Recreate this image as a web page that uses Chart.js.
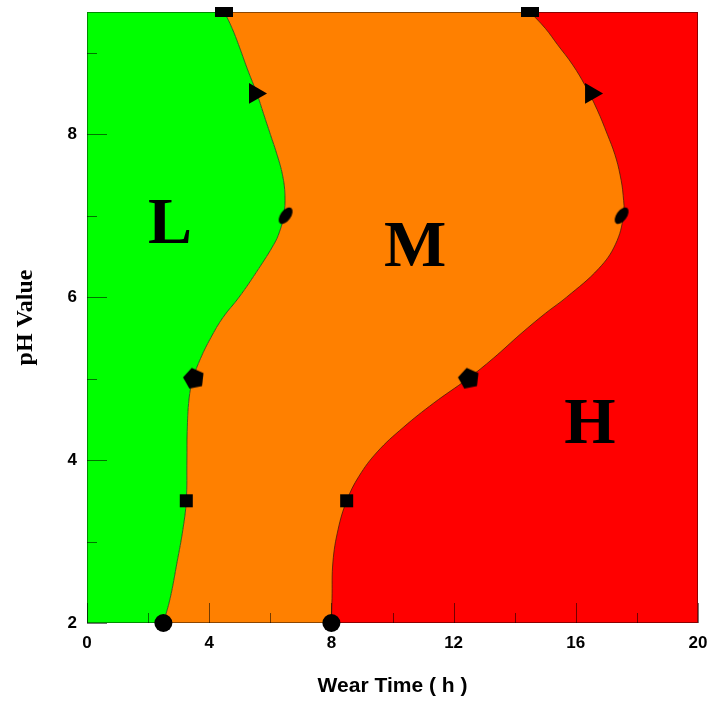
<!DOCTYPE html>
<html>
<head>
<meta charset="utf-8">
<script src="https://cdn.jsdelivr.net/npm/chart.js@4.4.1/dist/chart.umd.min.js"></script>
<style>
  html, body { margin: 0; padding: 0; background: #fff; }
  #wrap { width: 710px; height: 702px; }
</style>
</head>
<body>
<div id="wrap"><canvas id="wearChart"></canvas></div>
<script>
// L/M boundary: wear time (h) at each pH value
const lowMidPH   = [2.0, 2.3, 2.75, 3.15, 3.5, 4.0, 4.35, 4.75, 5.0, 5.25, 5.5, 5.75, 6.0, 6.35, 6.65, 6.8, 7.0, 7.25, 7.5, 7.75, 8.0, 8.25, 8.5, 8.8, 9.1, 9.3, 9.5];
const lowMidTime = [2.5, 2.72, 2.95, 3.14, 3.25, 3.27, 3.28, 3.34, 3.47, 3.72, 4.05, 4.45, 4.98, 5.62, 6.12, 6.3, 6.44, 6.48, 6.4, 6.22, 6.0, 5.78, 5.56, 5.25, 4.96, 4.75, 4.5];

// M/H boundary
const midHighPH   = [2.0, 2.3, 2.75, 3.15, 3.5, 3.8, 4.1, 4.4, 4.7, 5.0, 5.25, 5.55, 5.8, 6.0, 6.35, 6.65, 7.0, 7.25, 7.5, 7.75, 8.0, 8.3, 8.6, 8.85, 9.1, 9.3, 9.5];
const midHighTime = [8.0, 8.02, 8.05, 8.22, 8.5, 8.9, 9.5, 10.35, 11.35, 12.47, 13.3, 14.2, 15.0, 15.7, 16.75, 17.3, 17.56, 17.55, 17.45, 17.28, 17.03, 16.7, 16.3, 15.9, 15.4, 15.0, 14.5];

// measured points, one pair per pH level
const markerPH   = [2, 3.5, 5, 7, 8.5, 9.5];
const markerLow  = [2.5, 3.25, 3.5, 6.5, 5.5, 4.5];
const markerHigh = [8, 8.5, 12.5, 17.5, 16.5, 14.5];

// zone letters, placed by their baseline
const zoneNames = ['L', 'M', 'H'];
const zoneTime  = [2.72, 10.74, 16.46];
const zonePH    = [6.66, 6.38, 4.21];

const xTicks = [0, 2, 4, 6, 8, 10, 12, 14, 16, 18, 20];
const yTicks = [2, 3, 4, 5, 6, 7, 8, 9];

const X_MIN = 0, X_MAX = 20, Y_MIN = 2, Y_MAX = 9.5;

const GREEN = '#00ff00';
const ORANGE = '#ff8000';
const RED = '#ff0000';

function shapeCanvas(w, h, draw) {
  const c = document.createElement('canvas');
  c.width = w;
  c.height = h;
  const g = c.getContext('2d');
  g.fillStyle = '#000';
  draw(g, w, h);
  return c;
}

const pentagon = shapeCanvas(24, 24, (g) => {
  g.beginPath();
  for (let k = 0; k < 5; k++) {
    const a = -Math.PI / 2 - 0.2 + k * 2 * Math.PI / 5;
    const px = 12 + 11 * Math.cos(a), py = 12 + 11 * Math.sin(a);
    if (k === 0) g.moveTo(px, py); else g.lineTo(px, py);
  }
  g.closePath();
  g.fill();
});
const tiltedEllipse = shapeCanvas(22, 22, (g) => {
  g.beginPath();
  g.ellipse(11, 11, 9.5, 5.2, -0.95, 0, 2 * Math.PI);
  g.fill();
});
const flatBar = shapeCanvas(18, 10, (g) => g.fillRect(0, 0, 18, 10));

const markerStyles = [
  { pointStyle: 'circle', pointRadius: 9, rotation: 0 },
  { pointStyle: 'rect', pointRadius: 9.2, rotation: 0 },
  { pointStyle: pentagon, pointRadius: 10, rotation: 0 },
  { pointStyle: tiltedEllipse, pointRadius: 9, rotation: 0 },
  { pointStyle: 'triangle', pointRadius: 12, rotation: 90 },
  { pointStyle: flatBar, pointRadius: 9, rotation: 0 }
];

const toPoints = (xs, ys) => xs.map((v, i) => ({ x: v, y: ys[i] }));

const boundaryBase = {
  type: 'line',
  indexAxis: 'y',
  pointRadius: 0,
  tension: 0.4,
  borderWidth: 1
};

const datasets = [
  // zone M, drawn first, then covered on the right by zone H
  Object.assign({}, boundaryBase, {
    label: 'M', data: toPoints(lowMidTime, lowMidPH),
    backgroundColor: ORANGE, borderWidth: 0, borderColor: 'rgba(0,0,0,0)',
    fill: { value: X_MAX }, order: 4
  }),
  Object.assign({}, boundaryBase, {
    label: 'L', data: toPoints(lowMidTime, lowMidPH),
    backgroundColor: GREEN, borderColor: 'rgba(30,60,20,0.75)',
    fill: { value: X_MIN }, order: 3
  }),
  Object.assign({}, boundaryBase, {
    label: 'H', data: toPoints(midHighTime, midHighPH),
    backgroundColor: RED, borderColor: 'rgba(60,30,10,0.75)',
    fill: { value: X_MAX }, order: 2
  })
];

markerPH.forEach((ph, i) => {
  const s = markerStyles[i];
  datasets.push({
    type: 'scatter',
    label: 'pH ' + ph,
    data: [{ x: markerLow[i], y: ph }, { x: markerHigh[i], y: ph }],
    pointStyle: s.pointStyle,
    pointRadius: s.pointRadius,
    rotation: s.rotation,
    backgroundColor: '#000',
    borderColor: '#000',
    borderWidth: 0,
    clip: false,
    order: 0
  });
});

// inward ticks, plot frame and zone letters
const frameAndLabels = {
  id: 'frameAndLabels',
  afterDatasetsDraw(chart) {
    const { ctx, chartArea: a, scales: { x, y } } = chart;
    ctx.save();
    ctx.strokeStyle = 'rgba(0,0,0,0.55)';
    ctx.lineWidth = 1;
    ctx.beginPath();
    x.ticks.forEach((t) => {
      const px = Math.round(x.getPixelForValue(t.value)) + 0.5;
      const len = t.value % 4 === 0 ? 20 : 10;
      ctx.moveTo(px, a.bottom);
      ctx.lineTo(px, a.bottom - len);
    });
    y.ticks.forEach((t) => {
      const py = Math.round(y.getPixelForValue(t.value)) + 0.5;
      const len = t.value % 2 === 0 ? 20 : 10;
      ctx.moveTo(a.left, py);
      ctx.lineTo(a.left + len, py);
    });
    ctx.stroke();
    ctx.strokeStyle = 'rgba(0,0,0,0.45)';
    ctx.strokeRect(a.left + 0.5, a.top + 0.5, a.width - 1, a.height - 1);

    ctx.fillStyle = '#000';
    ctx.font = 'bold 66px "Liberation Serif", "Times New Roman", serif';
    ctx.textAlign = 'center';
    ctx.textBaseline = 'alphabetic';
    zoneNames.forEach((name, i) => {
      ctx.fillText(name, x.getPixelForValue(zoneTime[i]), y.getPixelForValue(zonePH[i]));
    });
    ctx.restore();
  }
};

// fixed axis sizes; label overhang is already covered by layout padding
function noOverhang(scale) {
  scale.paddingLeft = 0;
  scale.paddingRight = 0;
  scale.paddingTop = 0;
  scale.paddingBottom = 0;
}

const tickFont = { family: '"Liberation Sans", Arial, sans-serif', size: 17, weight: 'bold' };

new Chart(document.getElementById('wearChart'), {
  type: 'line',
  data: { datasets },
  options: {
    responsive: true,
    maintainAspectRatio: false,
    animation: false,
    events: [],
    indexAxis: 'y',
    layout: { padding: { top: 12, right: 12, left: 0, bottom: 0 } },
    plugins: {
      legend: { display: false },
      tooltip: { enabled: false }
    },
    scales: {
      x: {
        type: 'linear',
        position: 'bottom',
        min: X_MIN,
        max: X_MAX,
        afterBuildTicks: (scale) => { scale.ticks = xTicks.map((v) => ({ value: v })); },
        afterFit: (scale) => { scale.height = 79; noOverhang(scale); },
        grid: { display: false, drawTicks: false },
        border: { display: false },
        ticks: {
          color: '#000',
          font: tickFont,
          padding: 10,
          maxRotation: 0,
          callback: (v) => (v % 4 === 0 ? String(v) : '')
        },
        title: {
          display: true,
          text: 'Wear Time ( h )',
          color: '#000',
          font: { family: '"Liberation Sans", Arial, sans-serif', size: 21, weight: 'bold' },
          padding: { top: 0, bottom: 3 }
        }
      },
      y: {
        type: 'linear',
        position: 'left',
        min: Y_MIN,
        max: Y_MAX,
        afterBuildTicks: (scale) => { scale.ticks = yTicks.map((v) => ({ value: v })); },
        afterFit: (scale) => { scale.width = 87; noOverhang(scale); },
        grid: { display: false, drawTicks: false },
        border: { display: false },
        ticks: {
          color: '#000',
          font: tickFont,
          padding: 10,
          callback: (v) => (v % 2 === 0 ? String(v) : '')
        },
        title: {
          display: true,
          text: 'pH Value',
          color: '#000',
          font: { family: '"Liberation Serif", "Times New Roman", serif', size: 24, weight: 'bold' },
          padding: { top: 11, bottom: 0 }
        }
      }
    }
  },
  plugins: [frameAndLabels]
});
</script>
</body>
</html>
